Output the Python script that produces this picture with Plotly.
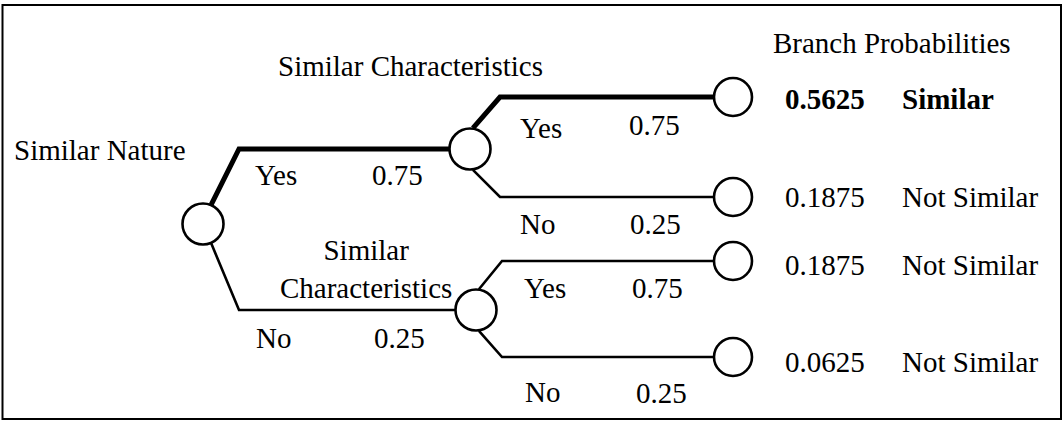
import math
import plotly.graph_objects as go

# ---------------- data ----------------
ROOT_TITLE = "Similar Nature"
STAGE2_TITLES = ["Similar Characteristics", "Similar<br>Characteristics"]
OUTCOME_HEADER = "Branch Probabilities"

FIRST_LABELS = ["Yes", "No"]
FIRST_PROBS = [0.75, 0.25]

SECOND_LABELS = ["Yes", "No", "Yes", "No"]
SECOND_PROBS = [0.75, 0.25, 0.75, 0.25]

OUTCOME_PROBS = [0.5625, 0.1875, 0.1875, 0.0625]
OUTCOME_LABELS = ["Similar", "Not Similar", "Not Similar", "Not Similar"]

# ---------------- layout (pixel canvas 1063 x 423) ----------------
W, H = 1063, 423
ROOT_XY = (203, 224)
MID_XY = [(470, 149), (476, 310)]
LEAF_X = 733
LEAF_Y = [97, 197, 261, 357]
ROOT_ELBOW_X = 239
MID_ELBOW_X = [500, 502]
ROOT_R, MID_R = 21, 21
ROOT_ANGLE, MID_ANGLE = 23, 8  # degrees from vertical where branch leaves circle

FIRST_LABEL_POS = [(253, 175), (254, 338)]
FIRST_PROB_POS = [(370, 175), (372, 338)]
SECOND_LABEL_POS = [(518, 128), (518, 224), (522, 288), (523, 392)]
SECOND_PROB_POS = [(627, 125), (628, 224), (630, 288), (634, 393)]
OUT_PROB_X, OUT_LABEL_X = 783, 900
OUT_TEXT_DY = [2, 0, 4, 5]
ROOT_TITLE_POS = (12, 150)
STAGE2_TITLE_POS = [(276, 66, "left"), (366, 269, "center")]
HEADER_POS = (771, 43)

FONT = dict(family="Liberation Serif, Times New Roman, serif", size=29, color="black")
THICK, THIN = 5, 2.6

fig = go.Figure()


def edge_point(c, r, ang, up):
    a = math.radians(ang)
    return (c[0] + r * math.sin(a), c[1] + (-1 if up else 1) * r * math.cos(a))


highlight_leaf = [lab == "Similar" for lab in OUTCOME_LABELS]
highlight_mid = [any(highlight_leaf[2 * i:2 * i + 2]) for i in range(2)]

# root -> stage 2 branches
for i, (mx, my) in enumerate(MID_XY):
    sx, sy = edge_point(ROOT_XY, ROOT_R, ROOT_ANGLE, up=(i == 0))
    fig.add_trace(go.Scatter(
        x=[sx, ROOT_ELBOW_X, mx], y=[sy, my, my], mode="lines",
        line=dict(color="black", width=THICK if highlight_mid[i] else THIN),
        hoverinfo="skip", showlegend=False))

# stage 2 -> outcome branches
for j, ly in enumerate(LEAF_Y):
    i = j // 2
    sx, sy = edge_point(MID_XY[i], MID_R, MID_ANGLE, up=(j % 2 == 0))
    fig.add_trace(go.Scatter(
        x=[sx, MID_ELBOW_X[i], LEAF_X], y=[sy, ly, ly], mode="lines",
        line=dict(color="black", width=THICK if highlight_leaf[j] else THIN),
        hoverinfo="skip", showlegend=False))

# nodes
fig.add_trace(go.Scatter(
    x=[ROOT_XY[0]] + [p[0] for p in MID_XY], y=[ROOT_XY[1]] + [p[1] for p in MID_XY],
    mode="markers", marker=dict(size=41, color="white", line=dict(color="black", width=2.6)),
    hoverinfo="skip", showlegend=False))
fig.add_trace(go.Scatter(
    x=[LEAF_X] * len(LEAF_Y), y=LEAF_Y,
    mode="markers", marker=dict(size=38, color="white", line=dict(color="black", width=2.6)),
    hoverinfo="skip", showlegend=False))


def txt(x, y, s, anchor="left"):
    fig.add_annotation(x=x, y=y, text=s, showarrow=False, xanchor=anchor, yanchor="middle",
                       font=FONT, xref="x", yref="y")


txt(*ROOT_TITLE_POS, ROOT_TITLE)
for (x, y, a), t in zip(STAGE2_TITLE_POS, STAGE2_TITLES):
    txt(x, y, t, a)
txt(*HEADER_POS, OUTCOME_HEADER)

for (x, y), lab in zip(FIRST_LABEL_POS, FIRST_LABELS):
    txt(x, y, lab)
for (x, y), p in zip(FIRST_PROB_POS, FIRST_PROBS):
    txt(x, y, f"{p:.2f}")
for (x, y), lab in zip(SECOND_LABEL_POS, SECOND_LABELS):
    txt(x, y, lab)
for (x, y), p in zip(SECOND_PROB_POS, SECOND_PROBS):
    txt(x, y, f"{p:.2f}")

for j, (p, lab) in enumerate(zip(OUTCOME_PROBS, OUTCOME_LABELS)):
    y = LEAF_Y[j] + OUT_TEXT_DY[j]
    ps, ls = f"{p:.4f}", lab
    if highlight_leaf[j]:
        ps, ls = f"<b>{ps}</b>", f"<b>{ls}</b>"
    txt(OUT_PROB_X, y, ps)
    txt(OUT_LABEL_X, y, ls)

# frame
fig.add_shape(type="rect", x0=2.5, x1=1061, y0=5, y1=419, xref="x", yref="y",
              line=dict(color="black", width=2), fillcolor="rgba(0,0,0,0)")

fig.update_xaxes(range=[0, W], visible=False, fixedrange=True)
fig.update_yaxes(range=[H, 0], visible=False, fixedrange=True)
fig.update_layout(width=W, height=H, margin=dict(l=0, r=0, t=0, b=0),
                  plot_bgcolor="white", paper_bgcolor="white", autosize=False)

fig.write_html("out.html", config={"displayModeBar": False},
               post_script="document.body.style.margin='0';")
